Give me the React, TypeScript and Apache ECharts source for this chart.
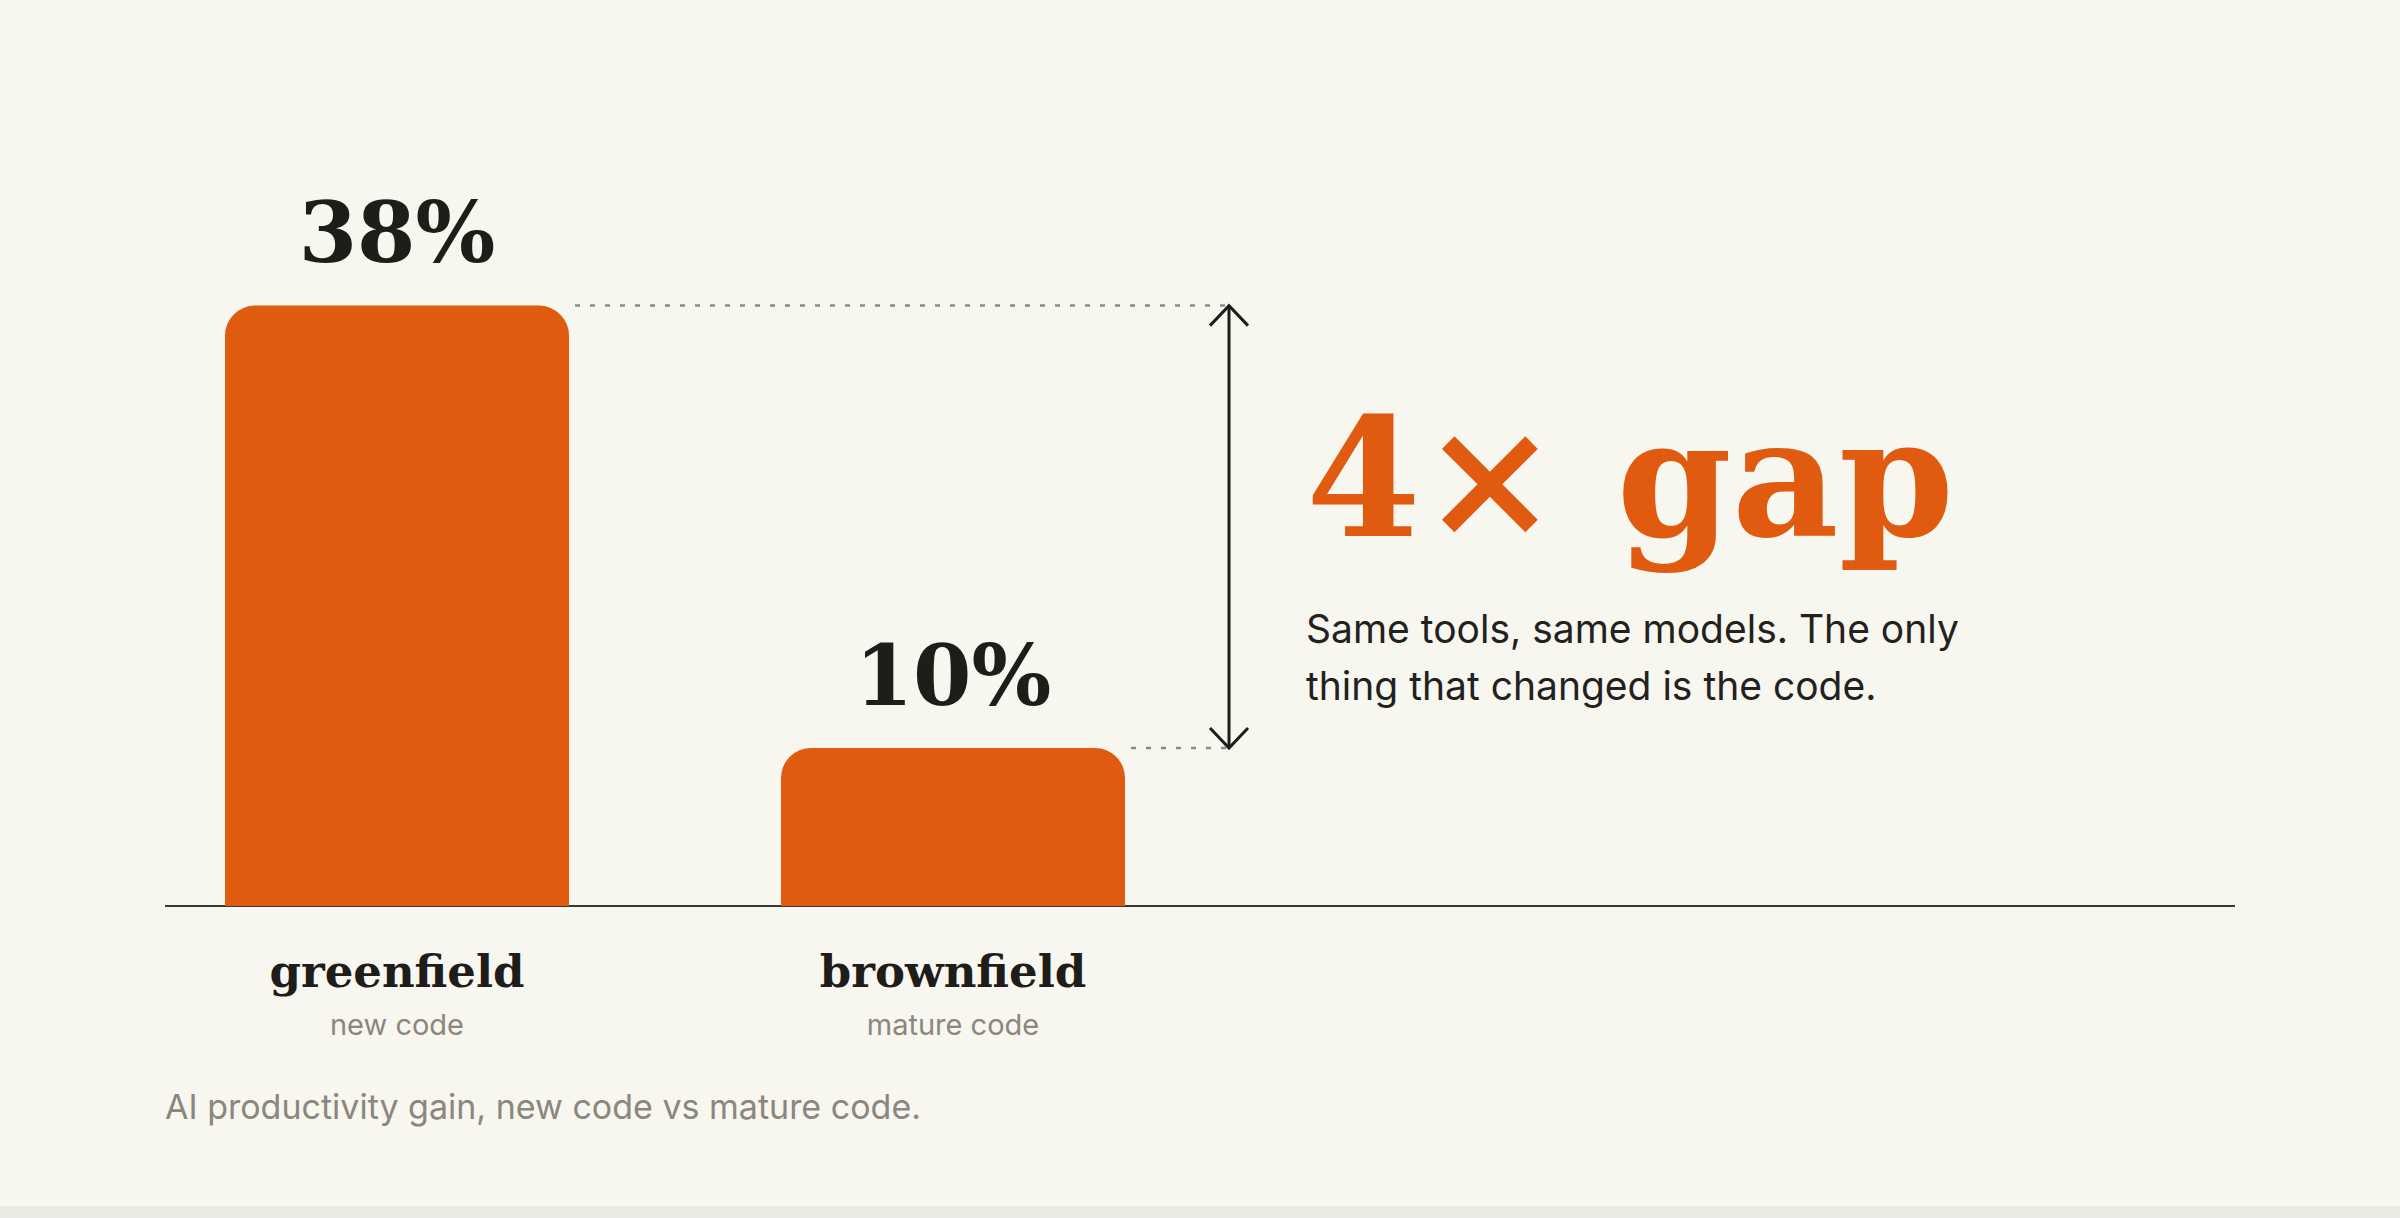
import React, { useRef, useEffect } from 'react';
import * as echarts from 'echarts';

const categories = ['greenfield', 'brownfield'];
const subLabels = ['new code', 'mature code'];
const gains = [38, 10];
const headline = '4× gap';
const note = 'Same tools, same models. The only\nthing that changed is the code.';
const caption = 'AI productivity gain, new code vs mature code.';

const ORANGE = '#e05a0f';
const INK = '#1f1d1a';
const GREY = '#8b867e';
const SERIF = '"DejaVu Serif", serif';
const SANS = 'Inter, "Noto Sans", sans-serif';

export default function App() {
  const chartRef = useRef<HTMLDivElement>(null);

  useEffect(() => {
    document.body.style.margin = '0';
    if (!chartRef.current) return;
    const chart = echarts.init(chartRef.current, undefined, { renderer: 'svg' });

    chart.setOption({
      animation: false,
      backgroundColor: '#f7f6ef',
      title: [
        {
          text: caption,
          left: 165,
          top: 1086,
          padding: 0,
          textStyle: { fontFamily: SANS, fontSize: 34, lineHeight: 40, fontWeight: 'normal', color: GREY },
        },
        {
          text: headline,
          subtext: note,
          left: 1306,
          top: 395,
          padding: 0,
          itemGap: 40,
          textStyle: { fontFamily: SERIF, fontSize: 165, lineHeight: 165, fontWeight: 'bold', color: ORANGE },
          subtextStyle: { fontFamily: SANS, fontSize: 39, lineHeight: 57, color: '#23211e' },
        },
      ],
      grid: { left: 119, right: 1169, top: 116, bottom: 300 },
      xAxis: {
        type: 'category',
        data: categories,
        axisLine: { show: false },
        axisTick: { show: false },
        axisLabel: {
          margin: 37,
          formatter: (v: string, i: number) => `{a|${v}}\n{b|${subLabels[i]}}`,
          rich: {
            a: { fontFamily: SERIF, fontWeight: 'bold', fontSize: 45, lineHeight: 56, color: INK },
            b: { fontFamily: SANS, fontSize: 29, lineHeight: 50, color: GREY },
          },
        },
      },
      yAxis: { type: 'value', min: 0, max: 50, show: false, splitLine: { show: false } },
      series: [
        {
          type: 'bar',
          data: gains,
          barWidth: 344,
          itemStyle: { color: ORANGE, borderRadius: [30, 30, 0, 0] },
          label: {
            show: true,
            position: 'top',
            distance: 31,
            formatter: '{c}%',
            fontFamily: SERIF,
            fontWeight: 'bold',
            fontSize: 84,
            color: INK,
          },
        },
      ],
    });

    // annotation: dotted guides and double arrow, placed from the bar scale
    const [x1, top1] = chart.convertToPixel({ seriesIndex: 0 }, [0, gains[0]]);
    const [x2, top2] = chart.convertToPixel({ seriesIndex: 0 }, [1, gains[1]]);
    const [, base] = chart.convertToPixel({ seriesIndex: 0 }, [0, 0]);
    const half = 344 / 2;
    const arrowX = x2 + (x2 - x1) / 2 - 2;
    const dotted = { stroke: '#8d8a85', lineWidth: 2.5, lineDash: [5, 10] };
    const dark = { stroke: INK, lineWidth: 3, fill: 'none' };

    chart.setOption({
      graphic: [
        { type: 'line', shape: { x1: 165, y1: base, x2: 2235, y2: base }, style: { stroke: '#3a3836', lineWidth: 2 } },
        { type: 'line', shape: { x1: x1 + half + 6, y1: top1, x2: arrowX, y2: top1 }, style: dotted },
        { type: 'line', shape: { x1: x2 + half + 6, y1: top2, x2: arrowX, y2: top2 }, style: dotted },
        { type: 'line', shape: { x1: arrowX, y1: top1, x2: arrowX, y2: top2 }, style: dark },
        { type: 'polyline', shape: { points: [[arrowX - 19, top1 + 20], [arrowX, top1], [arrowX + 19, top1 + 20]] }, style: dark },
        { type: 'polyline', shape: { points: [[arrowX - 19, top2 - 20], [arrowX, top2], [arrowX + 19, top2 - 20]] }, style: dark },
      ],
    });

    return () => chart.dispose();
  }, []);

  return (
    <div style={{ width: 2400, height: 1218, background: '#ebeae4' }}>
      <div ref={chartRef} style={{ width: 2400, height: 1206 }} />
    </div>
  );
}
